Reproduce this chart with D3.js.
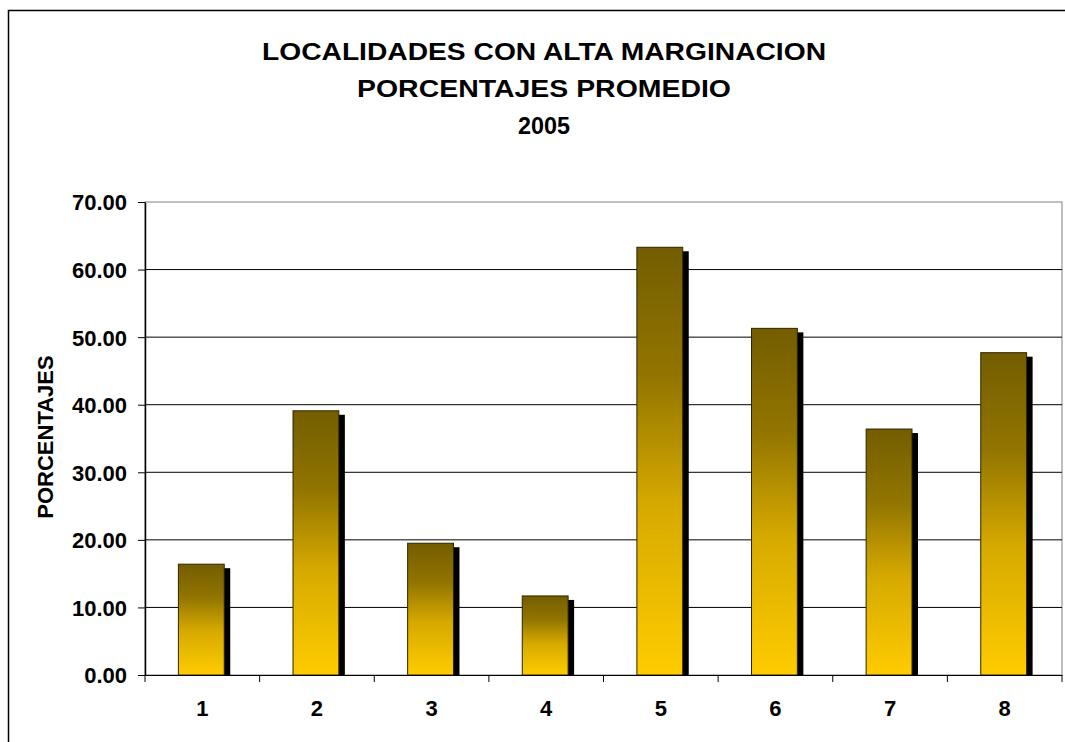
<!DOCTYPE html>
<html lang="es">
<head>
  <meta charset="UTF-8">
  <title>Localidades con alta marginacion</title>
  <script src="https://cdn.jsdelivr.net/npm/d3@7/dist/d3.min.js"></script>
  <style>
    html, body { margin: 0; padding: 0; background: #fff; }
    svg { display: block; }
    text { font-family: "Liberation Sans", Arial, sans-serif; font-weight: bold; fill: #000; }
  </style>
</head>
<body>
  <svg id="chart" width="1065" height="742"></svg>
  <script>
    // data
    const categories = ['1', '2', '3', '4', '5', '6', '7', '8'];
    const values = [16.4, 39.1, 19.5, 11.7, 63.3, 51.3, 36.4, 47.7];
    const yTicks = [0, 10, 20, 30, 40, 50, 60, 70];
    const titleLines = ['LOCALIDADES CON ALTA MARGINACION', 'PORCENTAJES PROMEDIO', '2005'];
    const titleWidths = [564, 374, 52];
    const yLabel = 'PORCENTAJES';

    const svg = d3.select('#chart');
    const plot = { left: 145, right: 1062, top: 202, bottom: 675 };

    // outer chart frame
    svg.append('rect')
      .attr('x', 8.5).attr('y', 10.5)
      .attr('width', 1060).attr('height', 740)
      .attr('fill', 'none')
      .attr('stroke', '#000')
      .attr('stroke-width', 1.5);

    // gradient for bars
    const defs = svg.append('defs');
    const grad = defs.append('linearGradient')
      .attr('id', 'barGrad')
      .attr('x1', 0).attr('y1', 0).attr('x2', 0).attr('y2', 1);
    grad.append('stop').attr('offset', '0%').attr('stop-color', '#735d00');
    grad.append('stop').attr('offset', '30%').attr('stop-color', '#927500');
    grad.append('stop').attr('offset', '60%').attr('stop-color', '#d6a900');
    grad.append('stop').attr('offset', '100%').attr('stop-color', '#ffcc00');

    const x = d3.scaleBand()
      .domain(categories)
      .range([plot.left, plot.right]);

    const y = d3.scaleLinear()
      .domain([0, 70])
      .range([plot.bottom, plot.top]);

    // title
    svg.append('g')
      .selectAll('text')
      .data(titleLines)
      .enter()
      .append('text')
      .attr('x', 544)
      .attr('y', (d, i) => 60 + i * 37)
      .attr('text-anchor', 'middle')
      .attr('textLength', (d, i) => titleWidths[i])
      .attr('lengthAdjust', 'spacingAndGlyphs')
      .style('font-size', '23.5px')
      .text(d => d);

    // plot area frame (gray)
    svg.append('rect')
      .attr('x', plot.left).attr('y', plot.top)
      .attr('width', plot.right - plot.left)
      .attr('height', plot.bottom - plot.top)
      .attr('fill', 'none')
      .attr('stroke', '#808080')
      .attr('stroke-width', 1);

    // gridlines
    svg.append('g')
      .selectAll('line')
      .data(yTicks.slice(1, -1))
      .enter()
      .append('line')
      .attr('x1', plot.left).attr('x2', plot.right)
      .attr('y1', d => y(d)).attr('y2', d => y(d))
      .attr('stroke', '#000')
      .attr('stroke-width', 1);

    // bars: shadow then gradient bar
    const barW = x.bandwidth() * 0.4;
    const barX = d => x(d) + (x.bandwidth() - barW) / 2 - 1;

    svg.append('g')
      .selectAll('rect')
      .data(categories)
      .enter()
      .append('rect')
      .attr('x', d => barX(d) + 6)
      .attr('y', (d, i) => y(values[i]) + 4)
      .attr('width', barW)
      .attr('height', (d, i) => plot.bottom - y(values[i]) - 4)
      .attr('fill', '#000');

    svg.append('g')
      .selectAll('rect')
      .data(categories)
      .enter()
      .append('rect')
      .attr('x', d => barX(d))
      .attr('y', (d, i) => y(values[i]))
      .attr('width', barW)
      .attr('height', (d, i) => plot.bottom - y(values[i]))
      .attr('fill', 'url(#barGrad)')
      .attr('stroke', '#2e2500')
      .attr('stroke-width', 1);

    // y axis
    const yAxis = svg.append('g')
      .attr('transform', `translate(${plot.left},0)`)
      .call(d3.axisLeft(y)
        .tickValues(yTicks)
        .tickFormat(d3.format('.2f'))
        .tickSize(7)
        .tickSizeOuter(0)
        .tickPadding(11));
    yAxis.select('.domain').attr('stroke', '#000').attr('stroke-width', 1.5);
    yAxis.selectAll('.tick line').attr('stroke', '#000');
    yAxis.selectAll('text')
      .attr('font-family', null)
      .style('font-size', '22px')
      .attr('dy', '0.36em');

    // x axis: labels at centres, ticks at boundaries
    const xAxis = svg.append('g')
      .attr('transform', `translate(0,${plot.bottom})`)
      .call(d3.axisBottom(x).tickSize(0).tickSizeOuter(0));
    xAxis.select('.domain').attr('stroke', '#000').attr('stroke-width', 1);
    xAxis.selectAll('text')
      .attr('font-family', null)
      .attr('y', 41)
      .attr('dy', 0)
      .style('font-size', '22px');

    const bounds = categories.map(d => x(d)).concat([plot.right]);
    svg.append('g')
      .selectAll('line')
      .data(bounds)
      .enter()
      .append('line')
      .attr('x1', d => d).attr('x2', d => d)
      .attr('y1', plot.bottom).attr('y2', plot.bottom + 7)
      .attr('stroke', '#000');

    // y axis title
    svg.append('text')
      .attr('transform', 'translate(53,437) rotate(-90)')
      .attr('text-anchor', 'middle')
      .style('font-size', '22px')
      .text(yLabel);
  </script>
</body>
</html>
